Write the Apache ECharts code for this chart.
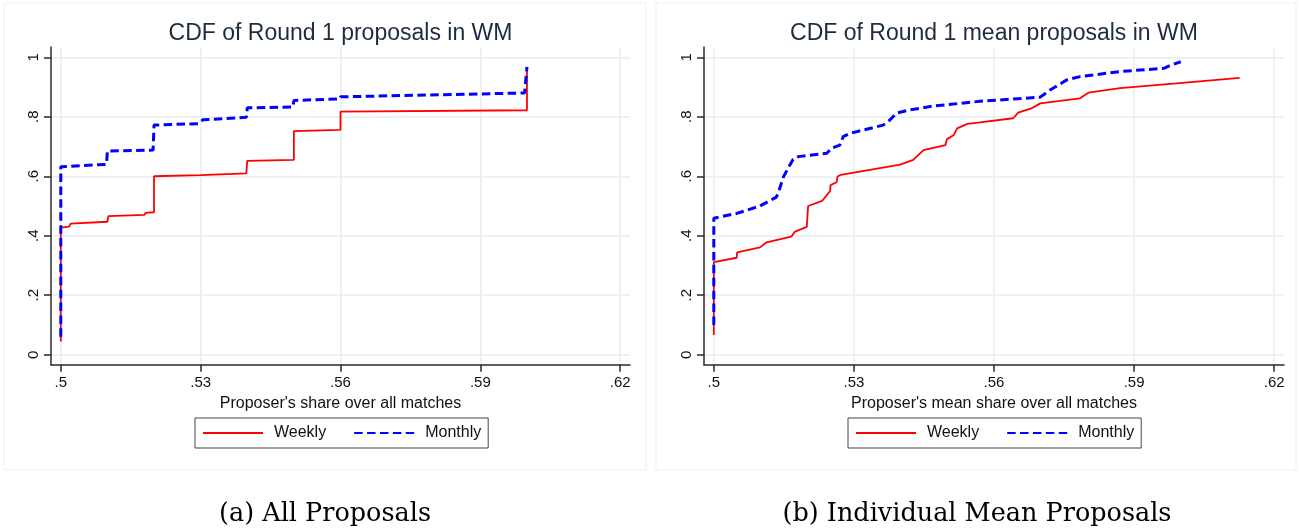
<!DOCTYPE html>
<html><head><meta charset="utf-8">
<script src="https://cdn.jsdelivr.net/npm/echarts@6/dist/echarts.min.js"></script>
<style>html,body{margin:0;padding:0;background:#fff}#c{width:1299px;height:529px}</style>
</head><body><div id="c"></div>
<script>
const titles = ['CDF of Round 1 proposals in WM', 'CDF of Round 1 mean proposals in WM'];
const xNames = ["Proposer's share over all matches", "Proposer's mean share over all matches"];
const captions = ['(a) All Proposals', '(b) Individual Mean Proposals'];
const seriesNames = ['Weekly', 'Monthly'];
const xTicks = [0.5, 0.53, 0.56, 0.59, 0.62];
const yTicks = [0, 0.2, 0.4, 0.6, 0.8, 1];

// Panel (a): CDF of all proposals
const weeklyAll = [
  [0.5, 0.044], [0.5, 0.427], [0.5018, 0.431], [0.5021, 0.441], [0.51, 0.447], [0.5102, 0.466],
  [0.5179, 0.470], [0.5182, 0.477], [0.52, 0.479], [0.52, 0.600], [0.53, 0.604], [0.5398, 0.610],
  [0.54, 0.652], [0.55, 0.655], [0.55, 0.752], [0.56, 0.756], [0.56, 0.817], [0.6, 0.822], [0.6, 0.965]
];
const monthlyAll = [
  [0.5, 0.060], [0.5, 0.632], [0.5098, 0.640], [0.51, 0.685], [0.5198, 0.688], [0.52, 0.772],
  [0.5295, 0.777], [0.5305, 0.790], [0.5398, 0.798], [0.54, 0.830], [0.5498, 0.833], [0.55, 0.855],
  [0.5598, 0.860], [0.56, 0.867], [0.5995, 0.880], [0.6, 0.968]
];

// Panel (b): CDF of individual mean proposals
const weeklyMean = [
  [0.5, 0.066], [0.5, 0.311], [0.5049, 0.326], [0.505, 0.344], [0.5099, 0.361], [0.5113, 0.378],
  [0.5166, 0.397], [0.5174, 0.414], [0.5199, 0.430], [0.5202, 0.500], [0.5232, 0.517], [0.5242, 0.537],
  [0.5249, 0.550], [0.525, 0.570], [0.5263, 0.580], [0.5265, 0.599], [0.5272, 0.605], [0.5399, 0.639],
  [0.5427, 0.655], [0.5449, 0.688], [0.5496, 0.705], [0.5499, 0.724], [0.5514, 0.739], [0.5521, 0.761],
  [0.5543, 0.776], [0.557, 0.781], [0.5641, 0.795], [0.5652, 0.814], [0.568, 0.828], [0.5699, 0.845],
  [0.5784, 0.862], [0.5802, 0.881], [0.587, 0.896], [0.5991, 0.912], [0.6126, 0.931]
];
const monthlyMean = [
  [0.5, 0.100], [0.5, 0.459], [0.5049, 0.475], [0.5099, 0.500], [0.5134, 0.530], [0.514, 0.554],
  [0.5145, 0.578], [0.5149, 0.598], [0.5159, 0.627], [0.517, 0.657], [0.5181, 0.666], [0.5242, 0.677],
  [0.5252, 0.694], [0.527, 0.705], [0.5277, 0.733], [0.5291, 0.744], [0.5363, 0.772], [0.5377, 0.789],
  [0.5391, 0.812], [0.542, 0.823], [0.547, 0.836], [0.557, 0.852], [0.5699, 0.866], [0.572, 0.890],
  [0.5756, 0.924], [0.5784, 0.935], [0.587, 0.952], [0.5964, 0.963], [0.5979, 0.974], [0.6, 0.985]
];

const FONT = 'Liberation Sans, Arial, sans-serif';
const fmt = v => String(+(+v).toFixed(2)).replace(/^0\./, '.');
const grids = [
  { left: 51, right: 669, top: 47, bottom: 164.3 },
  { left: 704, right: 15, top: 47, bottom: 164.3 }
];
const centers = [340.5, 994];
const panelCenters = [325, 977];

function xAxis(i) {
  return {
    type: 'value', gridIndex: i, min: 0.4979, max: 0.6221,
    name: xNames[i], nameLocation: 'middle', nameGap: 27,
    nameTextStyle: { fontFamily: FONT, fontSize: 16, color: '#111' },
    axisLine: { onZero: false, lineStyle: { color: '#2a2a2a', width: 1.5 } },
    axisTick: { show: true, length: 7, customValues: xTicks, lineStyle: { color: '#2a2a2a', width: 1.5 } },
    axisLabel: { customValues: xTicks, formatter: fmt, margin: 11, fontFamily: FONT, fontSize: 15, color: '#111' },
    splitLine: { show: true, lineStyle: { color: '#e6eef0', width: 1.5 } }
  };
}
function yAxis(i) {
  return {
    type: 'value', gridIndex: i, min: -0.0336, max: 1.0346,
    axisLine: { show: true, onZero: false, lineStyle: { color: '#2a2a2a', width: 1.5 } },
    axisTick: { show: true, length: 7, customValues: yTicks, lineStyle: { color: '#2a2a2a', width: 1.5 } },
    axisLabel: { customValues: yTicks, formatter: fmt, rotate: 90, margin: 10, fontFamily: FONT, fontSize: 15, color: '#111' },
    splitLine: { show: true, lineStyle: { color: '#e6eef0', width: 1.5 } }
  };
}
function lineSeries(name, data, i) {
  const weekly = name === seriesNames[0];
  return {
    name, type: 'line', xAxisIndex: i, yAxisIndex: i, data,
    symbol: 'none', showSymbol: false, z: weekly ? 2 : 3,
    lineStyle: weekly ? { color: '#ff0000', width: 1.8 } : { color: '#0000ff', width: 3, type: [8.5, 4.4] },
    itemStyle: { color: weekly ? '#ff0000' : '#0000ff' }
  };
}
function legend(i, left) {
  return {
    left, top: 418, orient: 'horizontal', data: seriesNames,
    itemWidth: 60, itemHeight: 14, itemGap: 27, padding: [7, 7],
    borderColor: '#444', borderWidth: 1, backgroundColor: '#fff', selectedMode: false,
    itemStyle: { opacity: 0, borderWidth: 0 },
    textStyle: { fontFamily: FONT, fontSize: 16, color: '#111', padding: [0, 0, 0, 6] }
  };
}

const chart = echarts.init(document.getElementById('c'), null, { renderer: 'canvas' });
chart.setOption({
  animation: false,
  backgroundColor: '#fff',
  graphic: [
    { type: 'rect', shape: { x: 4, y: 3, width: 642, height: 467 }, style: { fill: 'none', stroke: '#efefef', lineWidth: 1 }, silent: true, z: -10 },
    { type: 'rect', shape: { x: 656, y: 3, width: 640, height: 467 }, style: { fill: 'none', stroke: '#efefef', lineWidth: 1 }, silent: true, z: -10 }
  ],
  title: [
    { text: titles[0], left: centers[0], top: 22, textAlign: 'center', padding: 0, textStyle: { fontFamily: FONT, fontSize: 23, fontWeight: 'normal', color: '#1e2b40' } },
    { text: titles[1], left: centers[1], top: 22, textAlign: 'center', padding: 0, textStyle: { fontFamily: FONT, fontSize: 23, fontWeight: 'normal', color: '#1e2b40' } },
    { text: captions[0], left: panelCenters[0], top: 501, textAlign: 'center', padding: 0, textStyle: { fontFamily: 'DejaVu Serif, serif', fontSize: 25.5, fontWeight: 'normal', color: '#000' } },
    { text: captions[1], left: panelCenters[1], top: 501, textAlign: 'center', padding: 0, textStyle: { fontFamily: 'DejaVu Serif, serif', fontSize: 25.5, fontWeight: 'normal', color: '#000' } }
  ],
  legend: [legend(0, 195), legend(1, 848)],
  grid: grids,
  xAxis: [xAxis(0), xAxis(1)],
  yAxis: [yAxis(0), yAxis(1)],
  series: [
    lineSeries(seriesNames[0], weeklyAll, 0),
    lineSeries(seriesNames[1], monthlyAll, 0),
    lineSeries(seriesNames[0], weeklyMean, 1),
    lineSeries(seriesNames[1], monthlyMean, 1)
  ]
});
</script>
</body></html>
